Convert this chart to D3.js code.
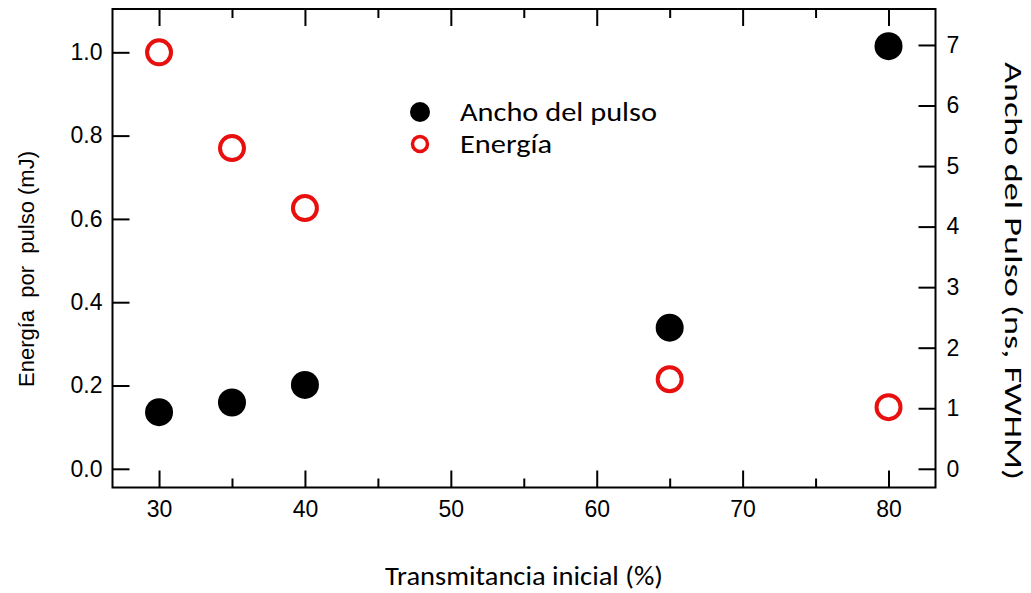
<!DOCTYPE html>
<html>
<head>
<meta charset="utf-8">
<script src="https://cdn.jsdelivr.net/npm/d3@7"></script>
<style>
  body { margin: 0; background: #fff; }
  .axis path { display: none; }
  .axis line { stroke: #000; stroke-width: 2; }
</style>
</head>
<body>
<svg width="1031" height="593"></svg>
<script>
/*------------------------
  ------ VARIABLES -------
  ------------------------*/

// data
var transmit = [30, 35, 40, 65, 80] ;
var energia = [1.0, 0.77, 0.626, 0.215, 0.148] ;      // mJ, left axis
var ancho = [0.935, 1.095, 1.385, 2.33, 6.98] ;       // ns, right axis

// ticks
var x_major = [30, 40, 50, 60, 70, 80] ;
var x_minor = [35, 45, 55, 65, 75] ;
var yl_ticks = [0, 0.2, 0.4, 0.6, 0.8, 1.0] ;
var yr_ticks = [0, 1, 2, 3, 4, 5, 6, 7] ;

// labels
var legend_items = [{name: "Ancho del pulso", kind: "fill", len: 197},
                    {name: "Energía", kind: "ring", len: 92}] ;
var x_title = "Transmitancia inicial (%)" ;
var yl_title = "Energía  por  pulso (mJ)" ;
var yr_title = "Ancho del Pulso (ns, FWHM)" ;

// display
var frame = {left: 112.5, right: 935.5, top: 9, bot: 487.5} ;
var tick_big = 17, tick_small = 9 ;
var calibri = "Carlito, Lato, 'Open Sans', sans-serif" ;
var arial = "'Liberation Sans', Arial, sans-serif" ;

var svg = d3.select("svg") ;

var x = d3.scaleLinear().domain([26.81, 83.22]).range([frame.left, frame.right]) ;
var yl = d3.scaleLinear().domain([-0.0449, 1.104]).range([frame.bot, frame.top]) ;
var yr = d3.scaleLinear().domain([-0.309, 7.594]).range([frame.bot, frame.top]) ;

/*------------------------
  -------- AXES ----------
  ------------------------*/

function add_axis(axis, tx, ty) {
    var g = svg.append("g").attr("class", "axis")
        .attr("transform", "translate(" + tx + "," + ty + ")")
        .call(axis) ;
    g.selectAll("text")
        .style("font-family", arial)
        .style("font-size", "23px")
        .style("fill", "#000") ;
    return g ;
}

function display_axes() {
    add_axis(d3.axisBottom(x).tickValues(x_major).tickSize(-tick_big).tickPadding(13), 0, frame.bot) ;
    add_axis(d3.axisBottom(x).tickValues(x_minor).tickSize(-tick_small).tickFormat(""), 0, frame.bot) ;
    add_axis(d3.axisTop(x).tickValues(x_major).tickSize(-tick_big).tickFormat(""), 0, frame.top) ;
    add_axis(d3.axisTop(x).tickValues(x_minor).tickSize(-tick_small).tickFormat(""), 0, frame.top) ;
    add_axis(d3.axisLeft(yl).tickValues(yl_ticks).tickSize(-tick_big)
             .tickPadding(10).tickFormat(d3.format(".1f")), frame.left, 0) ;
    add_axis(d3.axisRight(yr).tickValues(yr_ticks).tickSize(-tick_big).tickPadding(11), frame.right, 0) ;

    svg.append("rect")
        .attr("x", frame.left)
        .attr("y", frame.top)
        .attr("width", frame.right - frame.left)
        .attr("height", frame.bot - frame.top)
        .attr("fill", "none")
        .attr("stroke", "#000")
        .attr("stroke-width", 2) ;

    svg.append("text")
        .text(x_title)
        .attr("x", 524)
        .attr("y", 585)
        .attr("text-anchor", "middle")
        .attr("textLength", 278)
        .attr("lengthAdjust", "spacingAndGlyphs")
        .style("font-family", calibri)
        .style("font-size", "26px") ;

    svg.append("text")
        .text(yl_title)
        .attr("xml:space", "preserve")
        .attr("transform", "translate(34,269) rotate(-90)")
        .attr("text-anchor", "middle")
        .style("white-space", "pre")
        .style("font-family", arial)
        .style("font-size", "22px") ;

    svg.append("text")
        .text(yr_title)
        .attr("transform", "translate(1005,271) rotate(90)")
        .attr("text-anchor", "middle")
        .attr("textLength", 418)
        .attr("lengthAdjust", "spacingAndGlyphs")
        .style("font-family", calibri)
        .style("font-size", "24px") ;
}

/*------------------------
  ------- POINTS ---------
  ------------------------*/

function display_points() {
    svg.append("g").selectAll(".energia")
        .data(transmit)
        .enter()
        .append("circle")
        .attr("class", "energia")
        .attr("cx", function(d) { return x(d) ; })
        .attr("cy", function(d, i) { return yl(energia[i]) ; })
        .attr("r", 12)
        .attr("fill", "none")
        .attr("stroke", "#e8100e")
        .attr("stroke-width", 4) ;

    svg.append("g").selectAll(".ancho")
        .data(transmit)
        .enter()
        .append("circle")
        .attr("class", "ancho")
        .attr("cx", function(d) { return x(d) ; })
        .attr("cy", function(d, i) { return yr(ancho[i]) ; })
        .attr("r", 14)
        .attr("fill", "#000") ;
}

function display_legend() {
    var lg = svg.append("g").selectAll(".legend")
        .data(legend_items)
        .enter()
        .append("g")
        .attr("class", "legend")
        .attr("transform", function(d, i) { return "translate(420," + (112 + i * 32) + ")" ; }) ;

    lg.append("circle")
        .attr("r", function(d) { return d.kind == "fill" ? 10 : 7.5 ; })
        .attr("fill", function(d) { return d.kind == "fill" ? "#000" : "none" ; })
        .attr("stroke", function(d) { return d.kind == "fill" ? "none" : "#e8100e" ; })
        .attr("stroke-width", 3.5) ;

    lg.append("text")
        .text(function(d) { return d.name ; })
        .attr("x", 40)
        .attr("y", 9)
        .attr("textLength", function(d) { return d.len ; })
        .attr("lengthAdjust", "spacingAndGlyphs")
        .style("font-family", calibri)
        .style("font-size", "26px") ;
}

/*------------------
  ------ RUN -------
  ------------------*/

display_axes() ;
display_points() ;
display_legend() ;
</script>
</body>
</html>
